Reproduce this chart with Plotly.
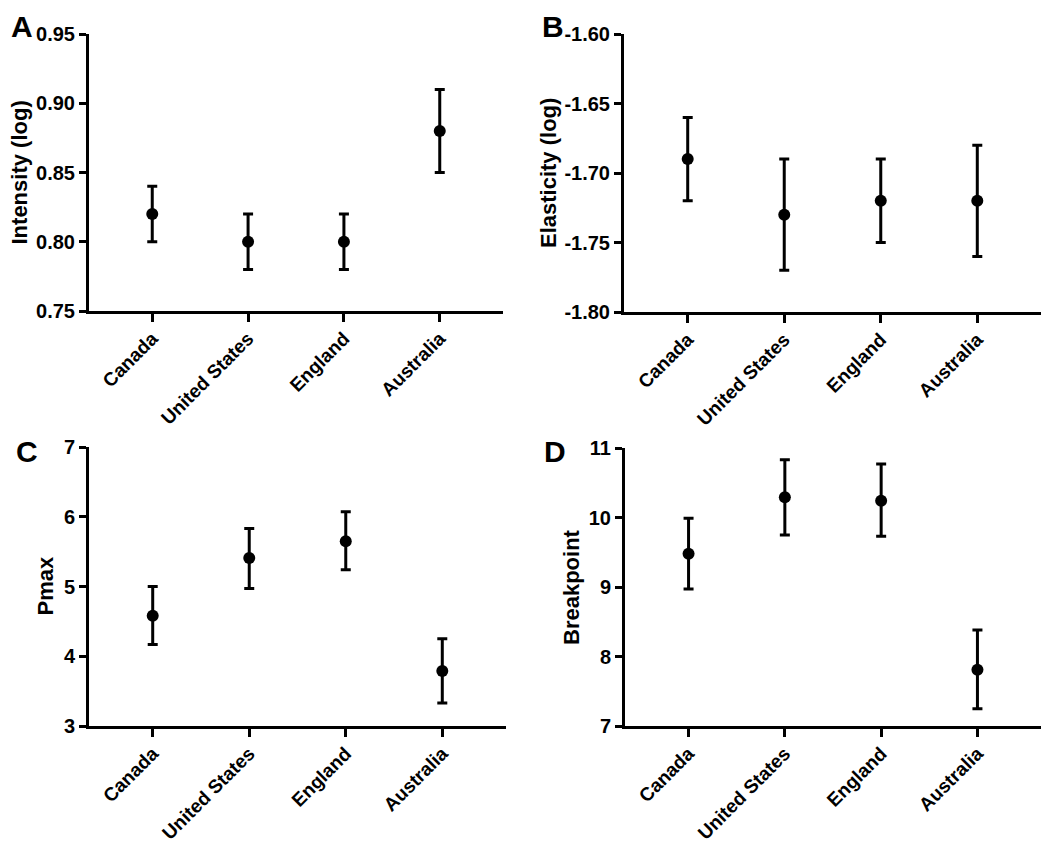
import plotly.graph_objects as go

countries = ["Canada", "United States", "England", "Australia"]

intensity_mean = [0.82, 0.80, 0.80, 0.88]
intensity_upper = [0.84, 0.82, 0.82, 0.91]
intensity_lower = [0.80, 0.78, 0.78, 0.85]

elasticity_mean = [-1.69, -1.73, -1.72, -1.72]
elasticity_upper = [-1.66, -1.69, -1.69, -1.68]
elasticity_lower = [-1.72, -1.77, -1.75, -1.76]

pmax_mean = [4.58, 5.41, 5.65, 3.79]
pmax_upper = [5.00, 5.83, 6.07, 4.25]
pmax_lower = [4.17, 4.97, 5.24, 3.33]

bp_mean = [9.48, 10.29, 10.24, 7.81]
bp_upper = [9.99, 10.83, 10.77, 8.38]
bp_lower = [8.97, 9.75, 9.73, 7.25]

# page body has an 8px default margin; size the figure to fit the 1050x851 window
OFF = 8
W, H = 1050 - 2 * OFF, 851 - 2 * OFF
FONT = "Liberation Sans, Arial, sans-serif"

panels = [
    dict(letter="A", title="Intensity (log)", mean=intensity_mean, up=intensity_upper, lo=intensity_lower,
         yrange=[0.75, 0.95], tickvals=[0.75, 0.80, 0.85, 0.90, 0.95], fmt=".2f",
         px=(89, 503), py=(34, 311), titlex=19, letterxy=(22, None)),
    dict(letter="B", title="Elasticity (log)", mean=elasticity_mean, up=elasticity_upper, lo=elasticity_lower,
         yrange=[-1.80, -1.60], tickvals=[-1.80, -1.75, -1.70, -1.65, -1.60], fmt=".2f",
         px=(624, 1041), py=(34, 312), titlex=548, letterxy=(553, None)),
    dict(letter="C", title="Pmax", mean=pmax_mean, up=pmax_upper, lo=pmax_lower,
         yrange=[3, 7], tickvals=[3, 4, 5, 6, 7], fmt="d",
         px=(89, 506), py=(447, 726), titlex=45, letterxy=(27, 452)),
    dict(letter="D", title="Breakpoint", mean=bp_mean, up=bp_upper, lo=bp_lower,
         yrange=[7, 11], tickvals=[7, 8, 9, 10, 11], fmt="d",
         px=(625, 1041), py=(448, 726), titlex=571, letterxy=(555, 452)),
]


def fx(px):
    return min(1.0, max(0.0, (px - OFF) / W))


def fy(py):
    return min(1.0, max(0.0, 1 - (py - OFF) / H))


fig = go.Figure()
annotations = []
for i, p in enumerate(panels):
    n = "" if i == 0 else str(i + 1)
    xa, ya = "x" + n, "y" + n
    err_plus = [u - m for u, m in zip(p["up"], p["mean"])]
    err_minus = [m - l for m, l in zip(p["mean"], p["lo"])]
    fig.add_trace(go.Scatter(
        x=list(range(len(countries))), y=p["mean"], mode="markers",
        marker=dict(color="black", size=12),
        error_y=dict(type="data", symmetric=False, array=err_plus, arrayminus=err_minus,
                     color="black", thickness=3, width=5),
        xaxis=xa, yaxis=ya, showlegend=False, cliponaxis=False,
    ))
    x0, x1 = p["px"]
    y0, y1 = p["py"]
    fig.update_layout(**{
        ("xaxis" + n): dict(
            domain=[fx(x0), fx(x1)], anchor=ya, range=[-0.66, 3.66], automargin=False,
            tickmode="array", tickvals=list(range(len(countries))), ticktext=countries,
            tickangle=-45, ticks="outside", ticklen=8, tickwidth=3, tickcolor="black",
            ticklabelstandoff=-2,
            showline=True, linewidth=3, linecolor="black", showgrid=False, zeroline=False,
            tickfont=dict(family=FONT, size=19, color="black", weight="bold"),
        ),
        ("yaxis" + n): dict(
            domain=[fy(y1), fy(y0)], anchor=xa, range=p["yrange"], automargin=False,
            tickmode="array", tickvals=p["tickvals"],
            ticktext=[format(v, p["fmt"]) if p["fmt"] != "d" else str(int(v)) for v in p["tickvals"]],
            ticks="outside", ticklen=7, tickwidth=3, tickcolor="black",
            showline=True, linewidth=3, linecolor="black", showgrid=False, zeroline=False,
            tickfont=dict(family=FONT, size=20, color="black", weight="bold"),
        ),
    })
    annotations.append(dict(
        text=p["title"], xref="paper", yref="paper",
        x=fx(p["titlex"]), y=fy((y0 + y1) / 2), textangle=-90,
        xanchor="center", yanchor="middle", showarrow=False,
        font=dict(family=FONT, size=22, color="black", weight="bold"),
    ))
    lx, ly = p["letterxy"]
    if ly is None:
        # top-row letters sit at the very top of the figure
        annotations.append(dict(
            text=p["letter"], xref="paper", yref="paper",
            x=fx(lx), y=1.0, xanchor="center", yanchor="top", showarrow=False,
            font=dict(family=FONT, size=30, color="black", weight="bold"),
        ))
    else:
        annotations.append(dict(
            text=p["letter"], xref="paper", yref="paper",
            x=fx(lx), y=fy(ly), xanchor="center", yanchor="middle", showarrow=False,
            font=dict(family=FONT, size=30, color="black", weight="bold"),
        ))

fig.update_layout(
    width=W, height=H, margin=dict(l=0, r=0, t=0, b=0, autoexpand=False),
    paper_bgcolor="white", plot_bgcolor="white",
    annotations=annotations,
)

fig.write_html("out.html")
